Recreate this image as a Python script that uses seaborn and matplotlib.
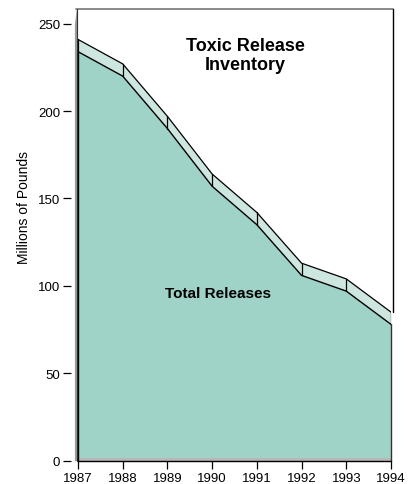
import matplotlib
matplotlib.use("Agg")
import matplotlib.pyplot as plt
import seaborn as sns
import pandas as pd

# Annual totals, millions of pounds
years = [1987, 1988, 1989, 1990, 1991, 1992, 1993, 1994]
releases = [234, 220, 190, 157, 135, 106, 97, 78]
y_ticks = [0, 50, 100, 150, 200, 250]

depth = 7.0          # apparent thickness of the ribbon, in data units
front_color = "#9fd3c7"
ribbon_color = "#cde7e0"

sns.set_style("white")
plt.rcParams["font.family"] = ["Liberation Sans", "DejaVu Sans"]
plt.rcParams["text.color"] = "black"
plt.rcParams["xtick.color"] = "black"
plt.rcParams["ytick.color"] = "black"

df = pd.DataFrame({"year": years, "releases": releases})
df["back"] = df["releases"] + depth

fig = plt.figure(figsize=(4.14, 4.85), dpi=100)
ax = fig.add_axes([78 / 414, 1 - 461.7 / 485, 313 / 414, (461.7 - 10) / 485])
ax.set_xlim(1987, 1994)
ax.set_ylim(0, 258.4)

# back wall frame
ax.plot([1986.96, 1994.04], [258.2, 258.2], color="#777777", lw=1.2, clip_on=False)
ax.plot([1994.04, 1994.04], [258.2, releases[-1] + depth], color="black", lw=1.0, clip_on=False)
ax.fill_betweenx([0, 250, 258.2], [1986.92, 1986.92, 1986.96], [1986.99, 1986.99, 1986.99],
                 color="#9a9a9a", lw=0, clip_on=False)
ax.plot([1986.98, 1986.98], [0, 258.2], color="#333333", lw=0.8, clip_on=False)

# top ribbon
ax.fill_between(df["year"], df["releases"], df["back"], color=ribbon_color, lw=0, zorder=2)
sns.lineplot(data=df, x="year", y="back", color="black", lw=0.9, ax=ax, zorder=4)
for yr, v in zip(years, releases):
    ax.plot([yr, yr], [v, v + depth], color="black", lw=0.9, zorder=4)

# front face
ax.fill_between(df["year"], 0, df["releases"], color=front_color, lw=0, zorder=2)
sns.lineplot(data=df, x="year", y="releases", color="black", lw=1.0, ax=ax, zorder=4)

# floor strip along the base
ax.fill_between([1987, 1994], [0, 0], [1.6, 1.6], color="#b8b8b8", lw=0, zorder=3)
ax.plot([1987, 1987], [0, releases[0]], color="black", lw=1.0, zorder=4, clip_on=False)
ax.plot([1994, 1994], [0, releases[-1]], color="#333333", lw=1.0, zorder=4, clip_on=False)
ax.plot([1987, 1994], [0, 0], color="black", lw=1.0, zorder=4, clip_on=False)

for s in ax.spines.values():
    s.set_visible(False)
ax.spines["left"].set_position(("outward", 5))

ax.set_xticks(years)
ax.set_xticklabels([str(y) for y in years])
ax.set_yticks(y_ticks)
ax.tick_params(axis="both", which="both", direction="out", length=6, width=0.9,
               color="black", labelcolor="black", labelsize=9.5, pad=2,
               left=True, bottom=True)
ax.set_xlabel("")
ax.set_ylabel("")
fig.text(24 / 414, 1 - 207 / 485, "Millions of Pounds", rotation=90,
         ha="center", va="center", fontsize=10)

ax.text(1990.75, 232, "Toxic Release\nInventory", ha="center", va="center",
        fontsize=13, fontweight="bold", linespacing=1.1)
ax.text(1990.12, 96, "Total Releases", ha="center", va="center",
        fontsize=11, fontweight="bold")

fig.savefig("out.png", dpi=100)
